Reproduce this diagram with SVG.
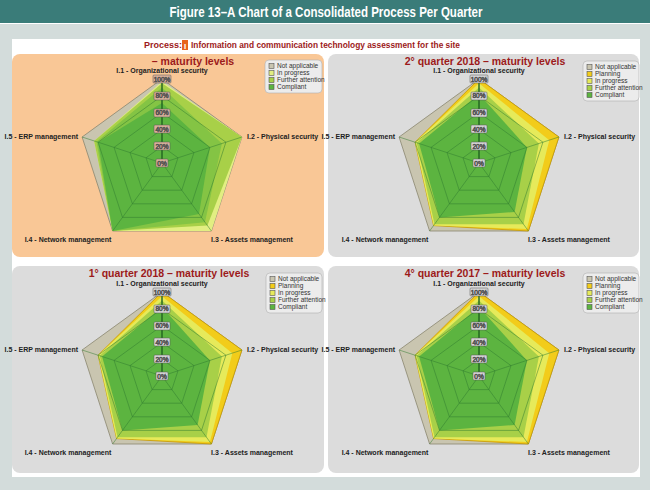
<svg xmlns="http://www.w3.org/2000/svg" xmlns:xlink="http://www.w3.org/1999/xlink" width="650" height="493" viewBox="0 0 650 493">
<style>
text{font-family:"Liberation Sans",Arial,sans-serif}
.ax{font-size:7px;font-weight:bold;fill:#222}
.pt{font-size:10.5px;font-weight:bold;fill:#9c1a1a}
.lg{font-size:6.5px;fill:#333}
.pc{font-size:6.5px;fill:#222;text-anchor:middle}
.grid{fill:none;stroke:#2f7a2f;stroke-width:0.7;stroke-opacity:0.7}
</style>
<defs>
<polygon id="pent" points="0,-84 79.9,-26 49.4,68 -49.4,68 -79.9,-26" vector-effect="non-scaling-stroke"/>
<g id="grid">
<use xlink:href="#pent" class="grid" transform="scale(0.2)"/>
<use xlink:href="#pent" class="grid" transform="scale(0.4)"/>
<use xlink:href="#pent" class="grid" transform="scale(0.6)"/>
<use xlink:href="#pent" class="grid" transform="scale(0.8)"/>
<path d="M0,0V-84M0,0L79.9,-26M0,0L49.4,68M0,0L-49.4,68M0,0L-79.9,-26" class="grid"/>
<line x1="0" y1="0" x2="0" y2="-84" stroke="#1f5f1f" stroke-width="1.2"/>
</g>
<g id="labels">
<text class="ax" x="0" y="-90" text-anchor="middle">I.1 - Organizational security</text>
<text class="ax" x="85" y="-24">I.2 - Physical security</text>
<text class="ax" x="90" y="79" text-anchor="middle">I.3 - Assets management</text>
<text class="ax" x="-94" y="79" text-anchor="middle">I.4 - Network management</text>
<text class="ax" x="-84" y="-24" text-anchor="end">I.5 - ERP management</text>
</g>
<g id="pcts">
<rect x="-9" y="-88" width="18" height="8" rx="1"/><text class="pc" x="0" y="-81.5">100%</text>
<rect x="-8" y="-71" width="16" height="8" rx="1"/><text class="pc" x="0" y="-64.7">80%</text>
<rect x="-8" y="-54" width="16" height="8" rx="1"/><text class="pc" x="0" y="-47.9">60%</text>
<rect x="-8" y="-38" width="16" height="8" rx="1"/><text class="pc" x="0" y="-31.1">40%</text>
<rect x="-8" y="-21" width="16" height="8" rx="1"/><text class="pc" x="0" y="-14.3">20%</text>
<rect x="-6" y="-4" width="12" height="8" rx="1"/><text class="pc" x="0" y="2.5">0%</text>
</g>
<g id="data2">
<use xlink:href="#pent" fill="#c9c5b0" stroke="#8a8670" stroke-width="0.8"/>
<polygon points="0,-84 79.9,-26 49.4,68 -45.4,62.6 -63.9,-20.8" fill="#f2cc1a" stroke="#c89a00" stroke-width="0.8"/>
<polygon points="0,-79.8 70.3,-22.8 47.9,66 -45.4,62.6 -63.9,-20.8" fill="#e6ea5a"/>
<polygon points="0,-75.6 59.9,-19.5 44.5,61.2 -44.5,61.2 -62.3,-20.2" fill="#a8d048"/>
<polygon points="0,-68.9 47.9,-15.6 35.6,49 -39.5,54.4 -59.9,-19.5" fill="#5cb440"/>
</g>
<g id="leg5">
<rect x="0" y="0" width="56" height="40" rx="4" fill="#ececec" stroke="#b0b0b0" stroke-width="0.6"/>
<rect x="4" y="3.5" width="5" height="5" fill="#c9c5b0" stroke="#555" stroke-width="0.6"/><text class="lg" x="12" y="8">Not applicable</text>
<rect x="4" y="10.5" width="5" height="5" fill="#f2cc1a" stroke="#555" stroke-width="0.6"/><text class="lg" x="12" y="15">Planning</text>
<rect x="4" y="17.5" width="5" height="5" fill="#e6ea5a" stroke="#555" stroke-width="0.6"/><text class="lg" x="12" y="22">In progress</text>
<rect x="4" y="24.5" width="5" height="5" fill="#a8d048" stroke="#555" stroke-width="0.6"/><text class="lg" x="12" y="29">Further attention</text>
<rect x="4" y="31.5" width="5" height="5" fill="#5cb440" stroke="#555" stroke-width="0.6"/><text class="lg" x="12" y="36">Compliant</text>
</g>
</defs>
<rect width="650" height="493" fill="#ffffff"/>
<rect x="0" y="24" width="650" height="466" fill="#d3dcdb"/>
<g id="title">
<rect x="0" y="0" width="650" height="23" fill="#3a7c79"/>
<text x="326" y="17" text-anchor="middle" font-family="Roboto,'Liberation Sans',sans-serif" font-weight="bold" font-size="15" fill="#fff" textLength="313" lengthAdjust="spacingAndGlyphs">Figure 13–A Chart of a Consolidated Process Per Quarter</text>
</g>
<rect x="12" y="39" width="628" height="438" fill="#ffffff"/>
<g id="process">
<text x="144" y="48" font-size="9" font-weight="bold" fill="#9c1a1a">Process:</text>
<rect x="182" y="40" width="6" height="10" fill="#e8641c"/>
<text x="185" y="48.5" font-size="8" font-weight="bold" fill="#fff" text-anchor="middle">I</text>
<text x="191" y="48" font-size="9" font-weight="bold" fill="#9c1a1a" textLength="269" lengthAdjust="spacingAndGlyphs">Information and communication technology assessment for the site</text>
</g>
<g id="panel1">
<rect x="12" y="54" width="312" height="203" rx="8" fill="#f9c796"/>
<text class="pt" x="193" y="65" text-anchor="middle">–  maturity levels</text>
<g transform="translate(162,163)">
<use xlink:href="#pent" fill="#c9c5b0" stroke="#8a8670" stroke-width="0.8"/>
<polygon points="0,-81.5 79.9,-26 49.4,68 -49.4,68 -67.9,-22.1" fill="#e2ee82"/>
<polygon points="0,-79.8 79.9,-26 45.4,62.6 -49.4,68 -67.9,-22.1" fill="#a8d048"/>
<polygon points="0,-75.6 59.9,-19.5 43,59.2 -49.4,68 -65.5,-21.3" fill="#84c444"/>
<polygon points="0,-60 47.9,-15.6 37,51 -49.4,68 -63.9,-20.8" fill="#5cb440"/>
<use xlink:href="#grid"/>
<use xlink:href="#pcts" fill="#d8b09a" stroke="#555" stroke-width="0.5"/>
<use xlink:href="#labels"/>
</g>
<g transform="translate(265,60)">
<rect x="0" y="0" width="57" height="33" rx="4" fill="#ececec" stroke="#b0b0b0" stroke-width="0.6"/>
<rect x="4" y="3.5" width="5" height="5" fill="#c9c5b0" stroke="#555" stroke-width="0.6"/><text class="lg" x="12" y="8">Not applicable</text>
<rect x="4" y="10.5" width="5" height="5" fill="#e2ee82" stroke="#555" stroke-width="0.6"/><text class="lg" x="12" y="15">In progress</text>
<rect x="4" y="17.5" width="5" height="5" fill="#a8d048" stroke="#555" stroke-width="0.6"/><text class="lg" x="12" y="22">Further attention</text>
<rect x="4" y="24.5" width="5" height="5" fill="#5cb440" stroke="#555" stroke-width="0.6"/><text class="lg" x="12" y="29">Compliant</text>
</g>
</g>
<g id="panel2">
<rect x="328" y="54" width="311" height="203" rx="8" fill="#dcdcdc"/>
<text class="pt" x="485" y="65" text-anchor="middle">2° quarter 2018  –  maturity levels</text>
<g transform="translate(479,163)">
<use xlink:href="#data2"/><use xlink:href="#grid"/>
<use xlink:href="#pcts" fill="#d4d4d4" stroke="#555" stroke-width="0.5"/>
<use xlink:href="#labels"/>
</g>
<use xlink:href="#leg5" transform="translate(583,61)"/>
</g>
<g id="panel3">
<rect x="12" y="266" width="312" height="207" rx="8" fill="#dcdcdc"/>
<text class="pt" x="169" y="277" text-anchor="middle">1° quarter 2018  –  maturity levels</text>
<g transform="translate(162,376)">
<use xlink:href="#data2"/><use xlink:href="#grid"/>
<use xlink:href="#pcts" fill="#d4d4d4" stroke="#555" stroke-width="0.5"/>
<use xlink:href="#labels"/>
</g>
<use xlink:href="#leg5" transform="translate(266,273)"/>
</g>
<g id="panel4">
<rect x="328" y="266" width="311" height="207" rx="8" fill="#dcdcdc"/>
<text class="pt" x="485" y="277" text-anchor="middle">4° quarter 2017  –  maturity levels</text>
<g transform="translate(479,376)">
<use xlink:href="#data2"/><use xlink:href="#grid"/>
<use xlink:href="#pcts" fill="#d4d4d4" stroke="#555" stroke-width="0.5"/>
<use xlink:href="#labels"/>
</g>
<use xlink:href="#leg5" transform="translate(583,273)"/>
</g>
<g id="connectors"/>
</svg>
